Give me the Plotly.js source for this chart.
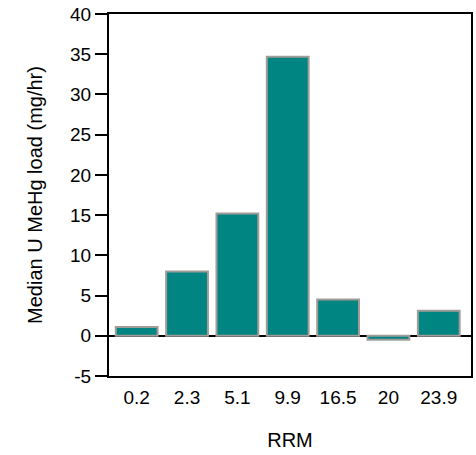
<!DOCTYPE html>
<html>
<head>
<meta charset="utf-8">
<script src="https://cdn.plot.ly/plotly-3.0.1.min.js"></script>
<style>html,body{margin:0;padding:0;background:#fff;}#chart{width:476px;height:455px;}</style>
</head>
<body>
<div id="chart"></div>
<script>
const categories = ["0.2", "2.3", "5.1", "9.9", "16.5", "20", "23.9"];
const medianLoad = [1.1, 8.0, 15.2, 34.7, 4.5, -0.5, 3.1];
const yTickValues = [-5, 0, 5, 10, 15, 20, 25, 30, 35, 40];
const yTickLabels = ["-5", "0", "5", "10", "15", "20", "25", "30", "35", "40"];

const font = "Arial, 'Liberation Sans', sans-serif";

Plotly.newPlot("chart", [{
  type: "bar",
  x: categories,
  y: medianLoad,
  marker: {color: "#008582", line: {color: "#a09c98", width: 2}},
  hoverinfo: "none"
}], {
  width: 476, height: 455,
  margin: {l: 109, r: 5, t: 14, b: 79},
  paper_bgcolor: "#fff", plot_bgcolor: "#fff",
  bargap: 0.17,
  showlegend: false,
  font: {family: font, color: "#000", size: 19},
  xaxis: {
    type: "category",
    range: [-0.55, 6.64],
    showline: true, linecolor: "#000", linewidth: 2, mirror: true,
    ticks: "outside", ticklen: 3, tickcolor: "rgba(0,0,0,0)",
    showgrid: false, zeroline: false,
    tickfont: {family: font, size: 19},
    title: {text: "RRM", font: {family: font, size: 20}, standoff: 26}
  },
  yaxis: {
    range: [-5, 40],
    tickvals: yTickValues,
    ticktext: yTickLabels,
    showline: true, linecolor: "#000", linewidth: 2, mirror: true,
    ticks: "outside", ticklen: 12, tickwidth: 2, tickcolor: "#000",
    showgrid: false,
    zeroline: true, zerolinecolor: "#000", zerolinewidth: 2,
    tickfont: {family: font, size: 19},
    title: {text: "Median U MeHg load (mg/hr)", font: {family: font, size: 20}, standoff: 22}
  }
}, {staticPlot: true, displayModeBar: false});
</script>
</body>
</html>
